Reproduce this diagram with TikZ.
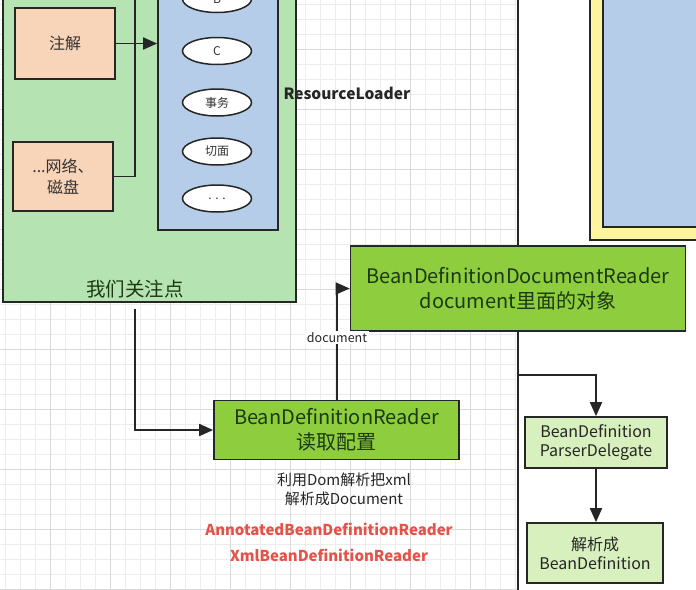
\documentclass[tikz,border=0pt]{standalone}
\usepackage{fontspec}
\setmainfont{Noto Sans CJK SC}
\usetikzlibrary{arrows.meta,positioning,shapes}
\definecolor{gridminor}{RGB}{236,236,236}
\definecolor{gridmajor}{RGB}{218,218,218}
\definecolor{focusgreen}{RGB}{181,228,178}
\definecolor{sourcepeach}{RGB}{248,212,184}
\definecolor{loaderblue}{RGB}{181,205,233}
\definecolor{frameyellow}{RGB}{255,244,160}
\definecolor{readergreen}{RGB}{141,205,62}
\definecolor{delegategreen}{RGB}{216,239,190}
\definecolor{textgreen}{RGB}{28,58,18}
\definecolor{impltext}{RGB}{229,82,72}
\newcommand{\pxfont}[2]{\fontsize{#1}{#2}\selectfont}
\tikzset{
        box/.style={align=center,inner sep=0pt,draw=black!85,line width=1.7pt},
        % Sources of the configuration
        node_source/.style={box, fill=sourcepeach, text=black!80, font=\pxfont{16}{21}},
        % Resource loader column and its items
        node_loader/.style={box, fill=loaderblue},
        node_item/.style={box, ellipse, fill=white, line width=1.5pt, minimum width=69pt, minimum height=27pt, font=\pxfont{12}{14}, text=black!80},
        % Readers
        node_reader/.style={box, fill=readergreen, text=textgreen, font=\pxfont{20}{25}},
        % Delegate steps
        node_step/.style={box, fill=delegategreen, text=black!85, font=\pxfont{16}{19}},
        wire/.style={draw=black!85, line width=1.8pt},
        grid_minor/.style={draw=gridminor, line width=0.6pt},
        grid_major/.style={draw=gridmajor, line width=0.8pt}
}

\begin{document}
\begin{tikzpicture}[x=1pt, y=-1pt, >={Triangle[length=14pt,width=12pt]}]
    \useasboundingbox (0,0) rectangle (696,589);
    \clip (0,0) rectangle (696,589);
    \fill[white] (0,0) rectangle (696,589);
    % grid paper left of the rail
    \foreach \gx in {5,20,...,515} \draw[grid_minor] (\gx,0) -- (\gx,589);
    \foreach \gy in {4,19,...,589} \draw[grid_minor] (0,\gy) -- (518,\gy);
    \foreach \gx in {50,110,...,515} \draw[grid_major] (\gx,0) -- (\gx,589);
    \foreach \gy in {49,109,...,589} \draw[grid_major] (0,\gy) -- (518,\gy);

    % what we care about
    \node[box, fill=focusgreen, minimum width=293pt, minimum height=314pt] (focus) at (149.5,145) {};
    \node[text=textgreen, font=\pxfont{19.5}{22}] (focus_label) at (135,289) {我们关注点};
    \node[node_source, minimum width=100pt, minimum height=71pt] (anno) at (65,43.5) {注解};
    \node[node_source, minimum width=100pt, minimum height=69pt] (net) at (63,176.5) {...网络、\\磁盘};
    \node[node_loader, minimum width=120pt, minimum height=244pt] (loader) at (218,108) {};
    \node[node_item] (item_b) at (217,-1) {B};
    \node[node_item] (item_c) at (217,51) {C};
    \node[node_item] (item_tx) at (217,102.5) {事务};
    \node[node_item] (item_aop) at (217,151.5) {切面};
    \node[node_item] (item_more) at (217,198.5) {. . .};
    \node[anchor=west, font=\bfseries\pxfont{15.5}{18}, text=black!85] (loader_label) at (280,93) {ResourceLoader};

    % rail and the frame on the right
    \coordinate (rail_top) at (518,-5);
    \coordinate (rail_bot) at (518,600);
    \draw[wire] (rail_top) -- (rail_bot);
    \node[box, fill=frameyellow, minimum width=120pt, minimum height=254pt] (frame) at (650,113) {};
    \node[box, fill=loaderblue, minimum width=107pt, minimum height=241pt] (frame_in) at (656.5,106.5) {};

    % readers
    \node[node_reader, minimum width=335pt, minimum height=85pt] (docreader) at (518,288.5)
        {BeanDefinitionDocumentReader\\document里面的对象};
    \node[node_reader, minimum width=245pt, minimum height=59pt] (reader) at (336.5,430)
        {BeanDefinitionReader\\读取配置};
    \node[align=center, font=\pxfont{15}{19}, text=black!85] (reader_note) at (344,489) {利用Dom解析把xml\\解析成Document};
    \node[font=\bfseries\pxfont{15}{19}, text=impltext] (impl_a) at (329,529) {AnnotatedBeanDefinitionReader};
    \node[font=\bfseries\pxfont{15}{19}, text=impltext] (impl_b) at (329,555) {XmlBeanDefinitionReader};

    % delegate steps
    \node[node_step, minimum width=142pt, minimum height=51pt] (delegate) at (596,442.5) {BeanDefinition\\ParserDelegate};
    \node[node_step, minimum width=136pt, minimum height=60pt] (parsed) at (595,553) {解析成\\BeanDefinition};

    % connectors
    \coordinate (src_top) at (135,-5);
    \coordinate (focus_out) at (135,309);
    \coordinate (doc_x) at (337,0);
    \coordinate (rail_tap) at (518,375);
    \draw[wire, ->] (anno.east) -- (anno.east -| loader.west);
    \draw[wire] (src_top) |- (net.east);
    \draw[wire, ->] (focus_out) |- (reader.west);
    \draw[wire, ->] (reader.north -| doc_x) |- (docreader.west)
        node[pos=0.28, fill=white, inner sep=1.5pt, text=black!85, font=\pxfont{12.5}{14}] (doc_label) {document};
    \draw[wire, ->] (rail_tap) -| (delegate.north);
    \draw[wire, ->] (delegate.south) -- (delegate.south |- parsed.north);
\end{tikzpicture}
\end{document}
